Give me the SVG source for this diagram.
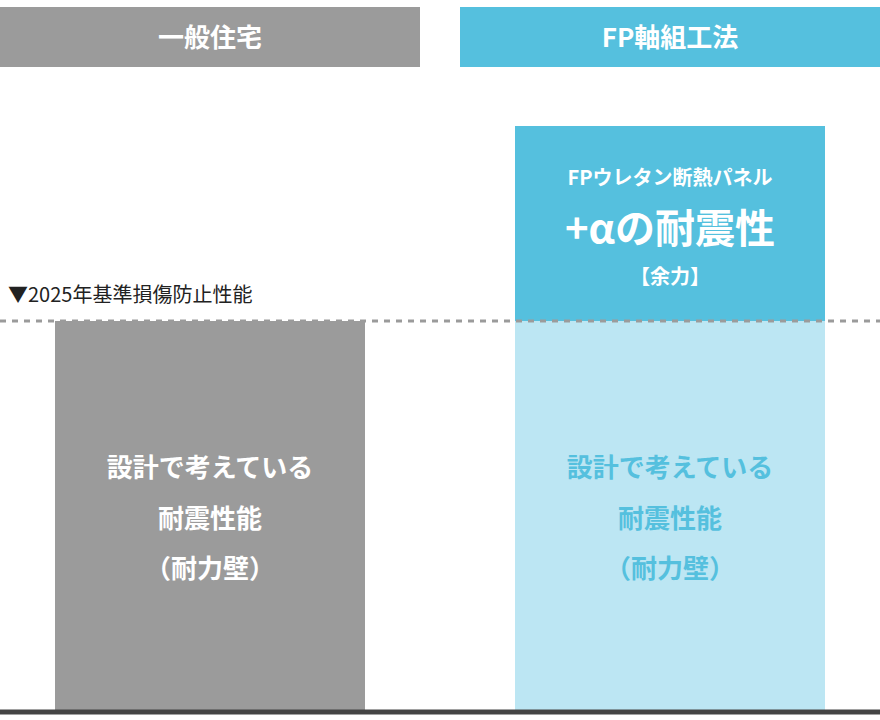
<svg xmlns="http://www.w3.org/2000/svg" width="880" height="720" viewBox="0 0 880 720">
<style>
text{font-family:"Noto Sans CJK JP","Noto Sans",sans-serif;font-weight:bold;text-anchor:middle}
.w{fill:#fff}
.g{fill:#fff;font-size:26px}
.b{fill:#55c0de;font-size:26px}
</style>
<rect width="880" height="720" fill="#fff"/>
<g id="head-general"><rect x="0" y="7" width="420" height="60" fill="#9b9b9b"/><text class="w" x="210" y="47" font-size="26">一般住宅</text></g>
<g id="head-fp"><rect x="460" y="7" width="420" height="60" fill="#55c0de"/><text class="w" x="670" y="47" font-size="26">FP軸組工法</text></g>
<g id="bar-general"><rect x="55" y="321" width="310" height="390" fill="#9b9b9b"/>
<text class="g" x="210" y="477">設計で考えている</text><text class="g" x="210" y="528">耐震性能</text><text class="g" x="210" y="578">（耐力壁）</text></g>
<g id="bar-fp"><rect x="515" y="321" width="310" height="390" fill="#bce6f3"/>
<text class="b" x="670" y="477">設計で考えている</text><text class="b" x="670" y="528">耐震性能</text><text class="b" x="670" y="578">（耐力壁）</text></g>
<g id="bar-fp-extra"><rect x="515" y="126" width="310" height="195" fill="#55c0de"/>
<text class="w" x="670" y="185" font-size="20">FPウレタン断熱パネル</text>
<text class="w" x="670" y="243" font-size="40">+αの耐震性</text>
<text class="w" x="670" y="284" font-size="20">【余力】</text></g>
<g id="connectors">
<line x1="0" y1="321" x2="880" y2="321" stroke="#9b9b9b" stroke-width="3" stroke-dasharray="6 6"/>
<line x1="0" y1="712" x2="880" y2="712" stroke="#444" stroke-width="5"/>
</g>
<text x="8" y="302" font-size="20" style="font-weight:normal;text-anchor:start;font-family:'Noto Sans CJK JP',sans-serif" fill="#222">▼2025年基準損傷防止性能</text>
</svg>
